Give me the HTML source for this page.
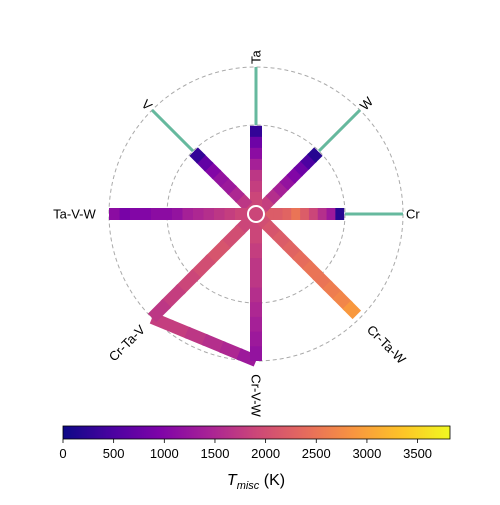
<!DOCTYPE html>
<html><head><meta charset="utf-8"><style>
body{margin:0;background:#fff;width:500px;height:500px;overflow:hidden}
svg text{font-family:"Liberation Sans","DejaVu Sans",sans-serif;fill:#000}
</style></head><body>
<svg id="chart" width="500" height="500" viewBox="0 0 500 500" xmlns="http://www.w3.org/2000/svg">
<defs><linearGradient id="plasma" x1="0" x2="1" y1="0" y2="0">
<stop offset="0" stop-color="#0d0887"/><stop offset="0.13" stop-color="#4c02a1"/><stop offset="0.25" stop-color="#7e03a8"/><stop offset="0.38" stop-color="#a92395"/><stop offset="0.5" stop-color="#cc4778"/><stop offset="0.63" stop-color="#e66c5c"/><stop offset="0.75" stop-color="#f89540"/><stop offset="0.88" stop-color="#fdc527"/><stop offset="1" stop-color="#f0f921"/>
</linearGradient></defs>
<g id="grid"></g><g id="marks"></g><g id="labels"></g><g id="cbar"></g>
</svg>
<script>
const spokeNames=["Cr","W","Ta","V","Ta-V-W","Cr-Ta-V","Cr-V-W","Cr-Ta-W"];
const spokeReach=[0.6,0.6,0.6,0.6,1.0,1.0,1.0,0.97];
const elementSpokes=["Cr","W","Ta","V"];
const valsCr=[2100,2200,2200,2300,2500,2200,1900,1600,1300,200];
const valsW=[1900,1800,1600,1400,1200,1000,800,500,200];
const valsTa=[1900,1900,1800,1700,1400,1100,800,300];
const valsV=[1900,1700,1500,1300,1200,1000,700,300];
const valsTaVW=[1900,1900,1800,1700,1600,1500,1400,1200,1100,1100,1000,1000,900,1100];
const valsCrTaV=[1900,2000,2100,2000,1900,1800,1700];
const valsCrVW=[1900,1900,1800,1700,1700,1600,1500,1400,1300,1200];
const valsCrTaW=[2000,2100,2200,2300,2400,2500,2500,2600,2700,2900];
const valsConnector=[1800,1800,1700,1600,1500,1300];
const cbTicks=[0,500,1000,1500,2000,2500,3000,3500];
const vmax=3820;
const NS="http://www.w3.org/2000/svg";
const cx=256,cy=214,R=147,Rin=89;
const stops=[[0,[13,8,135]],[0.13,[76,2,161]],[0.25,[126,3,168]],[0.38,[169,35,149]],[0.5,[204,71,120]],[0.63,[230,108,92]],[0.75,[248,149,64]],[0.88,[253,197,39]],[1,[240,249,33]]];
function cmap(v){let t=Math.max(0,Math.min(1,v/vmax));for(let i=1;i<stops.length;i++){if(t<=stops[i][0]){const a=stops[i-1],b=stops[i];const f=(t-a[0])/(b[0]-a[0]);return "rgb("+a[1].map((c,k)=>Math.round(c+(b[1][k]-c)*f)).join(",")+")";}}return "rgb(240,249,33)";}
function ang(i){return i*Math.PI/4;}
function pt(i,r){return [cx+r*R*Math.cos(ang(i)),cy-r*R*Math.sin(ang(i))];}
function mk(tag,attrs,parent){const e=document.createElementNS(NS,tag);for(const k in attrs)e.setAttribute(k,attrs[k]);document.getElementById(parent).appendChild(e);return e;}
[Rin,R].forEach((r,j)=>{const c=mk("circle",{cx:cx,cy:cy,r:r,fill:"none",stroke:"#aaa","stroke-dasharray":"4,3","stroke-width":1},"grid");

});
elementSpokes.forEach(n=>{const i=spokeNames.indexOf(n);const a=pt(i,Rin/R),b=pt(i,1);const l=mk("line",{x1:a[0],y1:a[1],x2:b[0],y2:b[1],stroke:"#66b99e","stroke-width":3},"grid");

});
function drawPath(p0,p1,vals,name){const n=vals.length;vals.forEach((v,k)=>{const f0=k/n,f1=Math.min(1,(k+1)/n+0.02);
const l=mk("line",{x1:p0[0]+(p1[0]-p0[0])*f0,y1:p0[1]+(p1[1]-p0[1])*f0,x2:p0[0]+(p1[0]-p0[0])*f1,y2:p0[1]+(p1[1]-p0[1])*f1,stroke:cmap(v),"stroke-width":12},"marks");

});}
const spokeVals={"Cr":valsCr,"W":valsW,"Ta":valsTa,"V":valsV,"Ta-V-W":valsTaVW,"Cr-Ta-V":valsCrTaV,"Cr-V-W":valsCrVW,"Cr-Ta-W":valsCrTaW};
drawPath(pt(5,spokeReach[5]),pt(6,spokeReach[6]),valsConnector,"connector");
spokeNames.forEach((n,i)=>{drawPath([cx,cy],pt(i,spokeReach[i]),spokeVals[n],"spoke-"+n.toLowerCase());});
const hub=mk("circle",{cx:cx,cy:cy,r:8,fill:cmap(1900),stroke:"#fff","stroke-width":2},"marks");


// label placement: [radius factor, rotation, anchor]
const labelCfg=[[1.02,0,"start"],[1.02,-45,"start"],[1.02,-90,"start"],[1.02,45,"end"],[1.09,0,"end"],[1.09,-45,"end"],[1.09,90,"start"],[1.09,45,"start"]];
spokeNames.forEach((n,i)=>{const c=labelCfg[i];const p=pt(i,c[0]);
const t=mk("text",{x:p[0],y:p[1],"font-size":13,"text-anchor":c[2],"dominant-baseline":"central",transform:"rotate("+c[1]+" "+p[0]+" "+p[1]+")"},"labels");
t.textContent=n;

});
const x0=63,x1=450;
const cb=mk("rect",{x:x0,y:426,width:x1-x0,height:13,fill:"url(#plasma)",stroke:"#000","stroke-width":0.8},"cbar");


cbTicks.forEach(v=>{const x=x0+(x1-x0)*v/vmax;
const l=mk("line",{x1:x,y1:439,x2:x,y2:443,stroke:"#000","stroke-width":0.8},"cbar");


const t=mk("text",{x:x,y:458,"font-size":13,"text-anchor":"middle"},"cbar");t.textContent=v;

});
const tt=mk("text",{x:256,y:485,"font-size":16,"text-anchor":"middle"},"cbar");
tt.innerHTML='<tspan font-style="italic">T</tspan><tspan font-style="italic" font-size="11" dy="4">misc</tspan><tspan dy="-4"> (K)</tspan>';


</script>
</body></html>
